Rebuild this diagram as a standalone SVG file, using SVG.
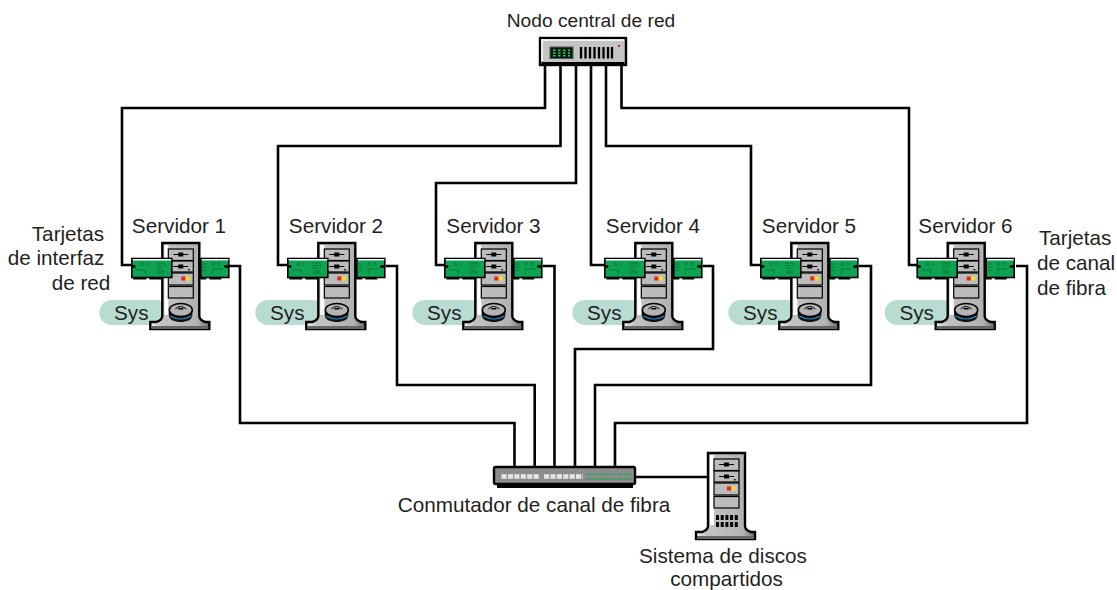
<svg xmlns="http://www.w3.org/2000/svg" xmlns:xlink="http://www.w3.org/1999/xlink" width="1117" height="590" viewBox="0 0 1117 590">
<style>
text{font-family:"Liberation Sans",Arial,sans-serif;font-size:20.7px;fill:#231f20;text-anchor:middle}
.start{text-anchor:start}
.wire{fill:none;stroke:#000;stroke-width:2.6}
.bay{fill:#bcbcbc;stroke:#000;stroke-width:1.2}
.card{fill:#0ea352;stroke:#000;stroke-width:1.6}
.trace{fill:none;stroke:#067a38;stroke-width:1}
.pill{fill:#b8dcd2}
</style>
<defs>
<linearGradient id="metal" x1="0" x2="1" y1="0" y2="0">
<stop offset="0" stop-color="#f2f2f2"/><stop offset=".18" stop-color="#c4c4c4"/><stop offset=".8" stop-color="#b2b2b2"/><stop offset="1" stop-color="#6e6e6e"/>
</linearGradient>
<g id="tower">
<path d="M1,1H38V74Q38,78 44,80H48V87H-11V80H-5Q1,78 1,74Z" fill="url(#metal)" stroke="#000" stroke-width="2.4"/>
<rect x="-10" y="84" width="57" height="3" fill="#666"/>
<rect x="3" y="3" width="4" height="70" fill="#fff"/>
<rect class="bay" x="7" y="7" width="25" height="11.500"/>
<rect class="bay" x="7" y="19" width="25" height="11"/>
<rect class="bay" x="7" y="31" width="25" height="12"/>
<rect class="bay" x="7" y="44.500" width="25" height="11.500"/>
<path d="M12,12.500H27M12,24.500H27" stroke="#000" stroke-width="1.2"/>
<rect x="17" y="10.500" width="5" height="4" fill="#000"/>
<rect x="17" y="22.500" width="5" height="4" fill="#000"/>
<rect x="27" y="27" width="1.500" height="1.500" fill="#000"/>
<rect x="20" y="34.500" width="4" height="4" fill="#ee2222"/>
<rect x="24.500" y="34.500" width="4" height="4" fill="#f7e01a"/>
</g>
<g id="disk">
<path d="M7.500,69V73C7.500,78 14,80 19.500,80S31,78 31,73V69Z" fill="#111"/>
<path d="M9,74Q19.500,80 30,74" fill="none" stroke="#2b8fd0" stroke-width="1.200"/>
<ellipse cx="19.500" cy="68" rx="11.500" ry="6.500" fill="#b4b4b4" stroke="#000" stroke-width="1.500"/>
<path d="M14,67Q19,62 25,67" fill="none" stroke="#000" stroke-width="1"/>
<rect x="17" y="66" width="5" height="1.500" fill="#000"/>
</g>
<g id="cardL">
<rect x="2" y="18" width="13" height="3.500" fill="#000"/><rect x="18" y="18" width="13" height="3.500" fill="#000"/>
<rect class="card" x="0.500" y="0.500" width="40" height="19"/>
<path d="M1.500,1.700H40" stroke="#fff" stroke-width="1.400"/>
<path d="M0,8.500H4" stroke="#000" stroke-width="2.600"/>
<path class="trace" d="M9,5H13M15,5H17M9,7H13M15,7H17M25,5H33V9M25,7.500H31M25,10H31M5,12H14V16M26,13H33M26,15H33"/>
</g>
<g id="cardR">
<rect x="0" y="18" width="6" height="3.500" fill="#000"/><rect x="9" y="18" width="12" height="3.500" fill="#000"/>
<rect class="card" x="0.500" y="0.500" width="28" height="19"/>
<path d="M1.500,1.700H28" stroke="#fff" stroke-width="1.400"/>
<path d="M24,8.500H29" stroke="#000" stroke-width="2.600"/>
<path class="trace" d="M2,6H6M2,9H6M2,12H6M11,5H15M17,5H20M11,7H15M17,7H20M22,11H12V16"/>
</g>
<g id="server">
<rect class="pill" x="-62" y="58" width="70" height="25" rx="12.500"/>
<use href="#cardR" x="39" y="16"/>
<use href="#tower"/>
<use href="#disk"/>
<use href="#cardL" x="-30" y="16"/>
<text x="-30" y="78">Sys</text>
</g>
</defs>
<rect width="1117" height="590" fill="#fff"/>
<g id="connectors" class="wire">
<path d="M545,66V108H122V265H132"/>
<path d="M560.500,66V146H278V265H288"/>
<path d="M576,66V183H436V265H446"/>
<path d="M591,66V265H605"/>
<path d="M606,66V146H751V265H762"/>
<path d="M621.500,66V108H909V265H918"/>
<path d="M229,266H240V423H514.500V467"/>
<path d="M386,266H397V385H534.700V467"/>
<path d="M543,266H554.500V467"/>
<path d="M703,266H713V349H575V467"/>
<path d="M859,266H871V385H595V467"/>
<path d="M1016,266H1027V423H615V467"/>
<path d="M636,477H708"/>
</g>
<g id="hub">
<rect x="540" y="38" width="86" height="27" fill="#c4c4c4" stroke="#000" stroke-width="2.400"/>
<rect x="541.500" y="62" width="83" height="3.500" fill="#000"/>
<path d="M542,61V40H624" fill="none" stroke="#fff" stroke-width="1.500"/>
<rect x="550" y="47" width="23" height="11.500" fill="#0b1a10" stroke="#555" stroke-width="1"/>
<path d="M553,50.300H570M553,53H570M553,55.700H570" stroke="#1fd060" stroke-width="1.500" stroke-dasharray="2.500 2.500"/>
<path d="M581,47V58.500M585.500,47V58.500M590,47V58.500M594.500,47V58.500M599,47V58.500M603.500,47V58.500M608,47V58.500M612,47V58.500" stroke="#000" stroke-width="2.300"/>
<rect x="618" y="45" width="2" height="2" fill="#e02020"/>
<text x="591" y="27" style="font-size:19.200px">Nodo central de red</text>
</g>
<g id="servidor1"><use href="#server" transform="translate(161.300,242)"/><text x="179" y="233">Servidor 1</text></g>
<g id="servidor2"><use href="#server" transform="translate(317.300,242)"/><text x="336" y="233">Servidor 2</text></g>
<g id="servidor3"><use href="#server" transform="translate(474.300,242)"/><text x="493.500" y="233">Servidor 3</text></g>
<g id="servidor4"><use href="#server" transform="translate(634.300,242)"/><text x="653" y="233">Servidor 4</text></g>
<g id="servidor5"><use href="#server" transform="translate(790.300,242)"/><text x="809" y="233">Servidor 5</text></g>
<g id="servidor6"><use href="#server" transform="translate(946.700,242)"/><text x="965.500" y="233">Servidor 6</text></g>
<g id="conmutador">
<rect x="497" y="482" width="136" height="6" fill="#000"/>
<rect x="494" y="467" width="141" height="17" rx="1.500" fill="#8c8c8c" stroke="#000" stroke-width="2.400"/>
<path d="M501.500,476.500H540M544,476.500H583" stroke="#e6e6e6" stroke-width="4.500" stroke-dasharray="5.200 1.200"/>
<path d="M586,474.300H632M586,479H632" stroke="#12a850" stroke-width="1.600" stroke-dasharray="1.800 1.100"/>
<text x="534" y="512">Conmutador de canal de fibra</text>
</g>
<g id="discos">
<use href="#tower" transform="translate(707,452)"/>
<path d="M716,517.500H738M716,524.500H738" stroke="#000" stroke-width="5" stroke-dasharray="3 1.700"/>
<text x="723" y="563">Sistema de discos</text>
<text x="726.500" y="585.500">compartidos</text>
</g>
<g id="tarjetas-red"><text x="68" y="241">Tarjetas</text><text x="56" y="265">de interfaz</text><text x="81" y="290">de red</text></g>
<g id="tarjetas-fibra"><text class="start" x="1039" y="245">Tarjetas</text><text class="start" x="1037" y="270">de canal</text><text class="start" x="1037" y="295">de fibra</text></g>
</svg>
